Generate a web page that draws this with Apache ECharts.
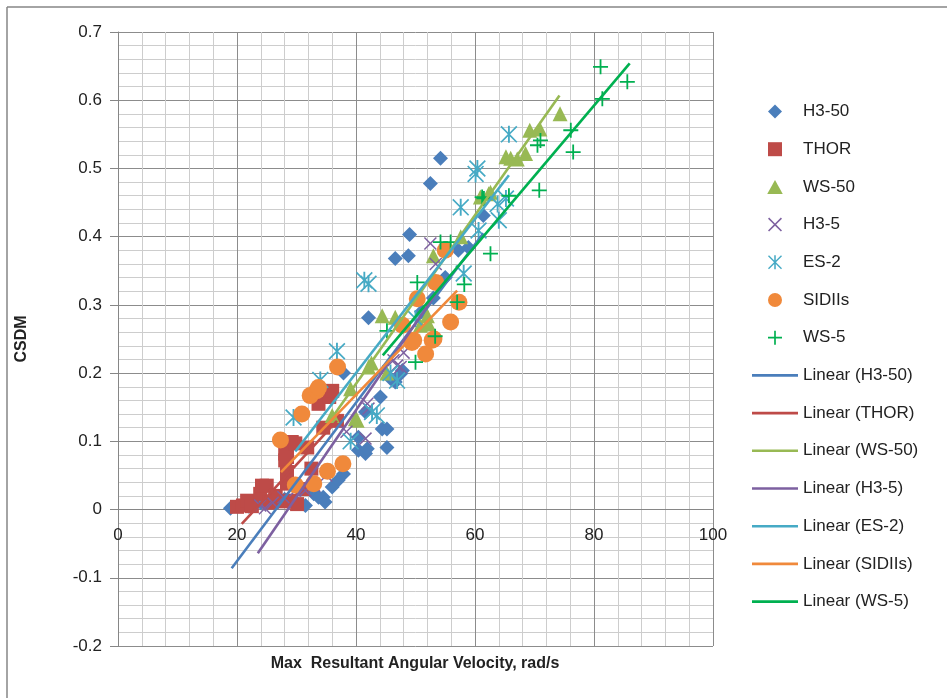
<!DOCTYPE html>
<html>
<head>
<meta charset="utf-8">
<script src="https://cdn.jsdelivr.net/npm/echarts@6/dist/echarts.min.js"></script>
<style>
html, body { margin: 0; padding: 0; background: #fff; }
#main { width: 947px; height: 698px; }
</style>
</head>
<body>
<div id="main"></div>
<script>
// axis ranges (ticks)
const xMin = 0, xMax = 100, xStep = 20;
const yMin = -0.2, yMax = 0.7, yStep = 0.1;

// [angular velocity, CSDM] per dummy
const h350 = [[18.9,0.002],[22,0.005],[24,0.01],[26,0.012],[28,0.015],[30,0.01],[31.5,0.006],[32.9,0.023],
  [33.7,0.018],[34.5,0.018],[34.8,0.011],[36,0.033],[37,0.043],[37.9,0.052],[40.4,0.087],[40.4,0.106],
  [41.6,0.082],[41.6,0.143],[41.9,0.089],[45.2,0.091],[44.4,0.118],[45.2,0.118],[44.1,0.165],[37.9,0.2],
  [46.6,0.187],[45.8,0.192],[47.5,0.199],[47.8,0.204],[42.1,0.281],[46.6,0.368],[48.8,0.372],[49,0.403],
  [52.5,0.478],[54.2,0.515],[51,0.29],[53,0.31],[55,0.34],[57.2,0.38],[58.9,0.384],[61.4,0.431]];
const thor = [[20,0.004],[21,0.006],[21.7,0.013],[22.5,0.005],[23.9,0.023],[24.2,0.035],[25,0.035],[25.5,0.01],
  [26.5,0.02],[27.5,0.012],[28.1,0.072],[28.1,0.082],[28.4,0.038],[28.4,0.055],[28.4,0.077],[29,0.013],
  [29.2,0.099],[29.8,0.097],[30.1,0.008],[31,0.03],[31.8,0.091],[32.5,0.06],[33.7,0.155],[34.5,0.12],
  [35.5,0.165],[36,0.174],[36.8,0.13]];
const ws50 = [[36,0.138],[39.1,0.177],[39.9,0.133],[40.2,0.131],[42.1,0.209],[42.6,0.215],[45.2,0.2],[44.4,0.284],
  [46.6,0.282],[50.8,0.27],[52.2,0.272],[52,0.284],[53,0.372],[57.6,0.4],[60.9,0.458],[62.3,0.463],
  [62.6,0.465],[65.2,0.517],[66,0.515],[67.1,0.514],[68.5,0.522],[69.2,0.556],[70.9,0.558],[74.3,0.58]];
const h35 = [[23.9,0.006],[24.7,0.002],[26,0.01],[27.8,0.018],[29.8,0.028],[31.5,0.028],[33,0.035],[35,0.05],
  [38.4,0.114],[41.6,0.104],[42.1,0.148],[41.9,0.155],[46.3,0.219],[46.9,0.211],[47.5,0.209],[48,0.23],
  [52.5,0.39],[53.4,0.36]];
const es2 = [[29.5,0.135],[34,0.19],[36.8,0.232],[39.1,0.1],[41.4,0.336],[42.1,0.331],[42.7,0.143],[43.5,0.138],
  [45.8,0.2],[46.9,0.189],[50,0.28],[57.6,0.443],[58.1,0.346],[60.1,0.492],[60.4,0.5],[60.6,0.409],
  [63.8,0.448],[64,0.424],[65.2,0.456],[65.7,0.55]];
const sidiis = [[27.3,0.102],[29.8,0.036],[30.9,0.14],[32.3,0.167],[32.9,0.038],[33.4,0.174],[33.7,0.179],[35.2,0.056],
  [36.9,0.209],[37.8,0.067],[47.8,0.27],[49.4,0.245],[49.7,0.248],[50.3,0.309],[51.7,0.228],[52.8,0.248],
  [53.1,0.25],[53.4,0.333],[55,0.38],[55.9,0.275],[57.3,0.304]];
const ws5 = [[45.2,0.262],[50,0.216],[50.3,0.333],[53.3,0.254],[54.2,0.392],[55.9,0.392],[57,0.304],[58.2,0.33],
  [61.2,0.458],[61.5,0.456],[62.6,0.375],[65.7,0.46],[70.5,0.534],[71,0.541],[70.8,0.468],[76.1,0.556],
  [76.5,0.524],[81.1,0.649],[81.4,0.602],[85.6,0.627]];

// linear trendline end points
const trendH350 = [[19.1,-0.086],[61.4,0.405]];
const trendThor = [[20.8,-0.021],[36.8,0.13]];
const trendWs50 = [[36,0.135],[74.2,0.607]];
const trendH35 = [[23.5,-0.064],[53.4,0.316]];
const trendEs2 = [[29.8,0.085],[65.7,0.49]];
const trendSidiis = [[27.4,0.055],[57,0.321]];
const trendWs5 = [[44.5,0.226],[86,0.654]];

// marker shapes as paths so the legend keeps their aspect
const diamondPath = 'path://M5,0L10,5L5,10L0,5Z';
const squarePath = 'path://M0,0H10V10H0Z';
const trianglePath = 'path://M5,0L10,9H0Z';
const plusPath = 'path://M4.4,0H5.6V4.4H10V5.6H5.6V10H4.4V5.6H0V4.4H4.4Z';
const xPath = 'path://M0.8,0L5,4.2L9.2,0L10,0.8L5.8,5L10,9.2L9.2,10L5,5.8L0.8,10L0,9.2L4.2,5L0,0.8Z';
const starPath = 'path://M0.7,0L5,4.3L9.3,0L10,0.7L5.7,5L10,9.3L9.3,10L5,5.7L0.7,10L0,9.3L4.3,5L0,0.7Z M4.45,0H5.55V10H4.45Z';
const linePath = 'path://M0,0H46V2.6H0Z';

const font = '"Liberation Sans", Arial, sans-serif';

const scatter = (name, data, symbol, size, color) => ({
  name: name,
  type: 'scatter',
  data: data,
  symbol: symbol,
  symbolSize: size,
  itemStyle: { color: color, opacity: 1 },
  z: 2
});
const trend = (name, data, color) => ({
  name: name,
  type: 'line',
  data: data,
  symbol: 'none',
  silent: true,
  lineStyle: { color: color, width: 2.6 },
  itemStyle: { color: color },
  z: 3
});

const markerNames = ['H3-50', 'THOR', 'WS-50', 'H3-5', 'ES-2', 'SIDIIs', 'WS-5'];
const trendNames = markerNames.map(n => 'Linear (' + n + ')');

const chart = echarts.init(document.getElementById('main'));
chart.setOption({
  animation: false,
  backgroundColor: '#fff',
  textStyle: { fontFamily: font },
  grid: { left: 118, right: 234, top: 32, bottom: 52 },
  legend: {
    orient: 'vertical',
    left: 752,
    top: 103,
    padding: 0,
    itemWidth: 46,
    itemHeight: 14,
    itemGap: 20.7,
    selectedMode: false,
    textStyle: { fontSize: 17, color: '#222', fontFamily: font },
    data: markerNames.map(n => ({ name: n }))
      .concat(trendNames.map(n => ({ name: n, icon: linePath })))
  },
  xAxis: {
    type: 'value',
    min: xMin, max: xMax, interval: xStep,
    offset: -136.4,
    axisLine: { onZero: false, lineStyle: { color: '#868686', width: 1 } },
    axisTick: { show: false },
    axisLabel: { margin: 17, fontSize: 17, color: '#222', fontFamily: font },
    splitLine: { lineStyle: { color: '#8c8c8c', width: 1 } },
    minorTick: { show: false, splitNumber: 5 },
    minorSplitLine: { show: true, lineStyle: { color: '#cdcdcd', width: 1 } }
  },
  yAxis: {
    type: 'value',
    min: yMin, max: yMax, interval: yStep,
    axisLine: { show: true, lineStyle: { color: '#868686', width: 1 } },
    axisTick: { show: true, length: 8, lineStyle: { color: '#868686' } },
    axisLabel: {
      margin: 16, fontSize: 17, color: '#222', fontFamily: font,
      formatter: v => Math.abs(v) < 1e-9 ? '0' : v.toFixed(1)
    },
    splitLine: { lineStyle: { color: '#8c8c8c', width: 1 } },
    minorTick: { show: false, splitNumber: 5 },
    minorSplitLine: { show: true, lineStyle: { color: '#cdcdcd', width: 1 } }
  },
  graphic: [
    { type: 'line', shape: { x1: 7, y1: 7, x2: 947, y2: 7 }, style: { stroke: '#868686', lineWidth: 1.5 } },
    { type: 'line', shape: { x1: 7, y1: 7, x2: 7, y2: 698 }, style: { stroke: '#868686', lineWidth: 1.5 } },
    { type: 'text', x: 22, y: 339, rotation: Math.PI / 2,
      style: { text: 'CSDM', fontSize: 16, fontWeight: 'bold', fill: '#222', fontFamily: font, align: 'center', verticalAlign: 'middle' } },
    { type: 'text', x: 415, y: 664,
      style: { text: 'Max  Resultant Angular Velocity, rad/s', fontSize: 16, fontWeight: 'bold', fill: '#222', fontFamily: font, align: 'center', verticalAlign: 'middle' } }
  ],
  series: [
    scatter('H3-50', h350, diamondPath, 15, '#4a7ebb'),
    scatter('THOR', thor, squarePath, 14, '#be4b48'),
    scatter('WS-50', ws50, trianglePath, 15, '#98b954'),
    scatter('H3-5', h35, xPath, 13, '#7d60a0'),
    scatter('ES-2', es2, starPath, 17, '#46aac5'),
    scatter('SIDIIs', sidiis, 'circle', 17, '#f0893b'),
    scatter('WS-5', ws5, plusPath, 15, '#00b050'),
    trend(trendNames[0], trendH350, '#4a7ebb'),
    trend(trendNames[1], trendThor, '#be4b48'),
    trend(trendNames[2], trendWs50, '#98b954'),
    trend(trendNames[3], trendH35, '#7d60a0'),
    trend(trendNames[4], trendEs2, '#46aac5'),
    trend(trendNames[5], trendSidiis, '#f0893b'),
    trend(trendNames[6], trendWs5, '#00b050')
  ]
});
</script>
</body>
</html>
